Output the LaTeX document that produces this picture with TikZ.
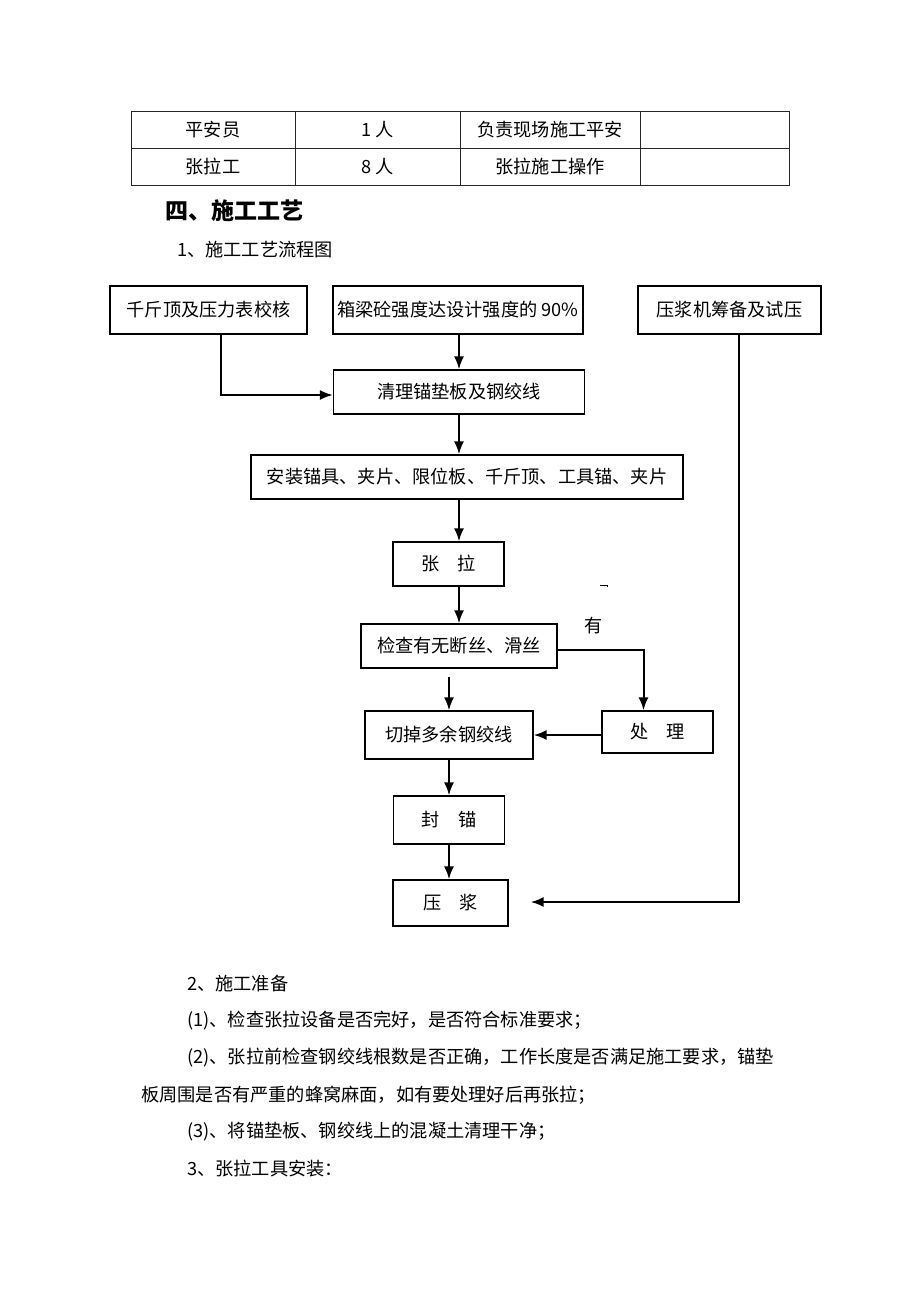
\documentclass[tikz,border=0pt]{standalone}
\usepackage{fontspec}
\setmainfont{Noto Sans CJK SC}
\usetikzlibrary{positioning,arrows.meta}

\begin{document}
\begin{tikzpicture}[x=1pt, y=-1pt,
    box/.style={rectangle, draw, line width=1.3pt, inner sep=0pt, font=\fontsize{18.2}{20}\selectfont},
    cell/.style={inner sep=0pt, font=\fontsize{18.2}{20}\selectfont},
    textline/.style={anchor=west, inner sep=0pt, font=\fontsize{18.2}{20}\selectfont},
    flow/.style={-{Latex[length=13pt,width=10pt]}, line width=2pt},
    grid/.style={line width=0.9pt, black!85}]
    \useasboundingbox (0,0) rectangle (920,1302);

    % staff table
    \draw[grid] (131,111) rectangle (789,185);
    \draw[grid] (131,148) -- (789,148);
    \foreach \x in {295,460,640}
        \draw[grid] (\x,111) -- (\x,185);
    \node at (213,130) [cell] (SafetyRole) {平安员};
    \node at (378,130) [cell] (SafetyCount) {1 人};
    \node at (550,130) [cell] (SafetyDuty) {负责现场施工平安};
    \node at (213,167) [cell] (TensionRole) {张拉工};
    \node at (378,167) [cell] (TensionCount) {8 人};
    \node at (550,167) [cell] (TensionDuty) {张拉施工操作};

    % headings
    \node at (165,211) [anchor=west, inner sep=0pt, font=\fontsize{23}{26}\selectfont\bfseries] (SectionTitle) {四、施工工艺};
    \node at (177,250) [textline] (FlowTitle) {1、施工工艺流程图};

    % flow chart
    \node at (208.5,310) [box, minimum width=197pt, minimum height=48pt] (JackCheck) {千斤顶及压力表校核};
    \node at (458,310) [box, minimum width=250pt, minimum height=48pt] (BeamStrength) {箱梁砼强度达设计强度的 90\%};
    \node at (729.5,310) [box, minimum width=183pt, minimum height=48pt] (GroutPrep) {压浆机筹备及试压};
    \node at (459,392) [box, minimum width=251pt, minimum height=44pt] (CleanPlate) {清理锚垫板及钢绞线};
    \node at (467,477) [box, minimum width=432pt, minimum height=44pt] (Install) {安装锚具、夹片、限位板、千斤顶、工具锚、夹片};
    \node at (448.5,564) [box, minimum width=111pt, minimum height=44pt] (Tension) {张\hspace{1em}拉};
    \node at (459,646) [box, minimum width=196pt, minimum height=44pt] (Inspect) {检查有无断丝、滑丝};
    \node at (657.5,732) [box, minimum width=111pt, minimum height=42pt] (Treat) {处\hspace{1em}理};
    \node at (449,735) [box, minimum width=168pt, minimum height=48pt] (CutStrand) {切掉多余钢绞线};
    \node at (449,820) [box, minimum width=111pt, minimum height=48pt] (Seal) {封\hspace{1em}锚};
    \node at (450.5,903) [box, minimum width=115pt, minimum height=46pt] (Grout) {压\hspace{1em}浆};
    \node at (594,626) [cell] (YesLabel) {有};
    \draw[line width=0.8pt] (600,585) -- (607,585) -- (607,587);

    \draw[flow] ([xshift=12.5pt]JackCheck.south) |- ([yshift=-3pt]CleanPlate.west);
    \draw[flow] (BeamStrength.south -| CleanPlate.north) -- (CleanPlate.north);
    \draw[flow] (CleanPlate.south) -- (CleanPlate.south |- Install.north);
    \draw[flow] (Install.south -| Inspect.north) -- (Tension.north -| Inspect.north);
    \draw[flow] (Tension.south -| Inspect.north) -- (Inspect.north);
    \draw[flow] ([yshift=-8pt]Inspect.south -| CutStrand.north) -- (CutStrand.north);
    \draw[flow] ([yshift=-4pt]Inspect.east) -| ([xshift=-14pt]Treat.north);
    \draw[flow] (Treat.west |- CutStrand.east) -- (CutStrand.east);
    \draw[flow] (CutStrand.south) -- (CutStrand.south |- Seal.north);
    \draw[flow] (Seal.south) -- (Seal.south |- Grout.north);
    \draw[flow] ([xshift=9pt]GroutPrep.south) |- ([xshift=22pt,yshift=1pt]Grout.east);

    % preparation text
    \node at (187,984) [textline] (PrepTitle) {2、施工准备};
    \node at (187,1021) [textline] (PrepOne) {(1)、检查张拉设备是否完好，是否符合标准要求；};
    \node at (187,1058) [textline] (PrepTwo) {(2)、张拉前检查钢绞线根数是否正确，工作长度是否满足施工要求，锚垫};
    \node at (141,1095) [textline] (PrepTwoMore) {板周围是否有严重的蜂窝麻面，如有要处理好后再张拉；};
    \node at (187,1132) [textline] (PrepThree) {(3)、将锚垫板、钢绞线上的混凝土清理干净；};
    \node at (187,1169) [textline] (ToolTitle) {3、张拉工具安装：};
\end{tikzpicture}
\end{document}
